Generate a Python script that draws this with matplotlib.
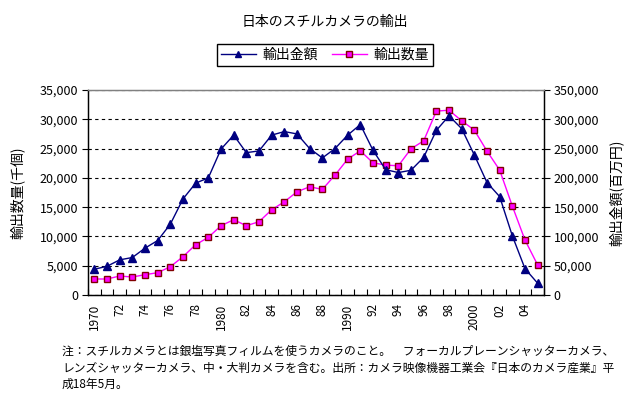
import matplotlib
matplotlib.use("Agg")
import matplotlib.pyplot as plt
from matplotlib.ticker import FuncFormatter, FixedLocator

plt.rcParams['font.family'] = ['Noto Sans CJK JP', 'DejaVu Sans']

years = list(range(1970, 2006))
# 輸出数量 (千個) - left axis
quantity = [2730, 2730, 3240, 3070, 3470, 3810, 4830, 6540, 8590, 9840,
            11830, 12850, 11830, 12510, 14550, 15920, 17620, 18480, 18030, 20470,
            23200, 24620, 22570, 22180, 22060, 24960, 26320, 31390, 31560, 29740,
            28150, 24570, 21330, 15180, 9380, 5120]
# 輸出金額 (百万円) - right axis
value = [44000, 49000, 60000, 64000, 80000, 93000, 121000, 164000, 191000, 200000,
         249000, 273000, 243000, 246000, 273000, 279000, 275000, 250000, 234000, 250000,
         273000, 291000, 247000, 214000, 209000, 213000, 235000, 281000, 306000, 284000,
         239000, 192000, 168000, 101000, 45000, 20000]
tick_labels = ['1970', '72', '74', '76', '78', '1980', '82', '84', '86', '88',
               '1990', '92', '94', '96', '98', '2000', '02', '04']

title = '日本のスチルカメラの輸出'
note = ('注：スチルカメラとは銀塩写真フィルムを使うカメラのこと。　フォーカルプレーンシャッターカメラ、\n'
        'レンズシャッターカメラ、中・大判カメラを含む。出所：カメラ映像機器工業会『日本のカメラ産業』平\n'
        '成18年5月。')

W, H = 639, 397
fig = plt.figure(figsize=(W / 100, H / 100), dpi=100)
ax = fig.add_axes([88 / W, 1 - 295 / H, (544 - 88) / W, (295 - 90) / H])
ax2 = ax.twinx()

x = list(range(len(years)))
l2, = ax.plot(x, quantity, color='#FF00FF', lw=1, marker='s', ms=4.8,
              mfc='#FF00FF', mec='#800000', mew=1, zorder=3)
l1, = ax2.plot(x, value, color='#000080', lw=1, marker='^', ms=5.5,
               mfc='#000080', mec='#000080', zorder=4)

ax.set_xlim(-0.5, len(years) - 0.5)
ax.set_ylim(0, 35000)
ax2.set_ylim(0, 350000)
ax.set_yticks(range(0, 35001, 5000))
ax2.set_yticks(range(0, 350001, 50000))
fmt = FuncFormatter(lambda v, p: f'{int(v):,}')
ax.yaxis.set_major_formatter(fmt)
ax2.yaxis.set_major_formatter(fmt)
ax.grid(axis='y', color='black', linestyle=(0, (3, 3)), lw=0.8)
ax.set_axisbelow(True)

ax.set_xticks(list(range(0, len(years), 2)))
ax.set_xticklabels(tick_labels, rotation=90, fontsize=8.5)
ax.xaxis.set_minor_locator(FixedLocator([i - 0.5 for i in range(len(years) + 1)]))
ax.tick_params(axis='x', which='major', length=0, pad=6)
ax.tick_params(axis='x', which='minor', length=4, direction='in', width=0.8)
ax.tick_params(axis='y', length=4, width=0.8, labelsize=9, pad=3)
ax2.tick_params(axis='y', length=4, width=0.8, labelsize=9, pad=3)

for a in (ax, ax2):
    for s in a.spines.values():
        s.set_linewidth(0.9)
        s.set_color('black')
    a.spines['top'].set_color('#808080')

ax.set_ylabel('輸出数量(千個)', fontsize=10, labelpad=11)
ax2.set_ylabel('輸出金額(百万円)', fontsize=10, labelpad=7)

fig.text(325 / W, 1 - 22 / H, title, ha='center', va='center', fontsize=10)
fig.legend([l1, l2], ['輸出金額', '輸出数量'], ncol=2, loc='center',
           bbox_to_anchor=(325 / W, 1 - 55 / H), frameon=True, fancybox=False,
           edgecolor='black', fontsize=10, handlelength=2.5, columnspacing=1.0,
           borderpad=0.3, handletextpad=0.5, framealpha=1, markerscale=0.8)
fig.text(62 / W, 1 - 345 / H, note, ha='left', va='top', fontsize=8.5, linespacing=1.35)

fig.savefig('out.png', dpi=100)
